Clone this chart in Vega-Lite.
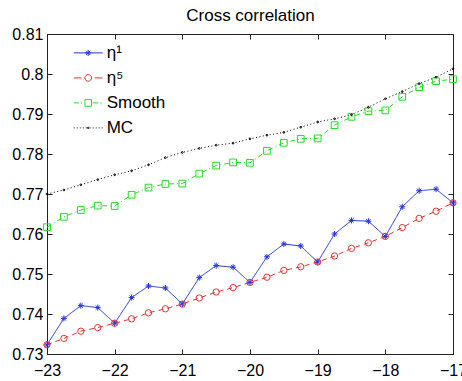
{
  "$schema": "https://vega.github.io/schema/vega-lite/v6.json",
  "autosize": "none",
  "width": 406,
  "height": 320,
  "padding": {"left": 47, "top": 34, "right": 9, "bottom": 27},
  "background": "white",
  "config": {
    "view": {"stroke": "#222", "strokeWidth": 1},
    "axis": {"grid": false, "domain": false, "tickColor": "#222", "labelColor": "black", "labelFont": "Liberation Sans", "labelFontSize": 16, "tickSize": -5, "labelFlush": false}
  },
  "data": {"values": [
    {"x": -23, "series": "η¹", "value": 0.7323}, {"x": -22.75, "series": "η¹", "value": 0.7389}, {"x": -22.5, "series": "η¹", "value": 0.7421}, {"x": -22.25, "series": "η¹", "value": 0.7416}, {"x": -22, "series": "η¹", "value": 0.7377},
    {"x": -21.75, "series": "η¹", "value": 0.7441}, {"x": -21.5, "series": "η¹", "value": 0.7470}, {"x": -21.25, "series": "η¹", "value": 0.7465}, {"x": -21, "series": "η¹", "value": 0.7425}, {"x": -20.75, "series": "η¹", "value": 0.7491},
    {"x": -20.5, "series": "η¹", "value": 0.7521}, {"x": -20.25, "series": "η¹", "value": 0.7517}, {"x": -20, "series": "η¹", "value": 0.7479}, {"x": -19.75, "series": "η¹", "value": 0.7543}, {"x": -19.5, "series": "η¹", "value": 0.7575},
    {"x": -19.25, "series": "η¹", "value": 0.7570}, {"x": -19, "series": "η¹", "value": 0.7530}, {"x": -18.75, "series": "η¹", "value": 0.7600}, {"x": -18.5, "series": "η¹", "value": 0.7634}, {"x": -18.25, "series": "η¹", "value": 0.7632},
    {"x": -18, "series": "η¹", "value": 0.7594}, {"x": -17.75, "series": "η¹", "value": 0.7668}, {"x": -17.5, "series": "η¹", "value": 0.7708}, {"x": -17.25, "series": "η¹", "value": 0.7712}, {"x": -17, "series": "η¹", "value": 0.7678},
    {"x": -23, "series": "η⁵", "value": 0.7323}, {"x": -22.75, "series": "η⁵", "value": 0.7339}, {"x": -22.5, "series": "η⁵", "value": 0.7357}, {"x": -22.25, "series": "η⁵", "value": 0.7366}, {"x": -22, "series": "η⁵", "value": 0.7377},
    {"x": -21.75, "series": "η⁵", "value": 0.7388}, {"x": -21.5, "series": "η⁵", "value": 0.7403}, {"x": -21.25, "series": "η⁵", "value": 0.7413}, {"x": -21, "series": "η⁵", "value": 0.7425}, {"x": -20.75, "series": "η⁵", "value": 0.7440},
    {"x": -20.5, "series": "η⁵", "value": 0.7455}, {"x": -20.25, "series": "η⁵", "value": 0.7466}, {"x": -20, "series": "η⁵", "value": 0.7479}, {"x": -19.75, "series": "η⁵", "value": 0.7492}, {"x": -19.5, "series": "η⁵", "value": 0.7509},
    {"x": -19.25, "series": "η⁵", "value": 0.7518}, {"x": -19, "series": "η⁵", "value": 0.7530}, {"x": -18.75, "series": "η⁵", "value": 0.7545}, {"x": -18.5, "series": "η⁵", "value": 0.7564}, {"x": -18.25, "series": "η⁵", "value": 0.7578},
    {"x": -18, "series": "η⁵", "value": 0.7594}, {"x": -17.75, "series": "η⁵", "value": 0.7616}, {"x": -17.5, "series": "η⁵", "value": 0.7639}, {"x": -17.25, "series": "η⁵", "value": 0.7657}, {"x": -17, "series": "η⁵", "value": 0.7678},
    {"x": -23, "series": "Smooth", "value": 0.7617}, {"x": -22.75, "series": "Smooth", "value": 0.7643}, {"x": -22.5, "series": "Smooth", "value": 0.7660}, {"x": -22.25, "series": "Smooth", "value": 0.7671}, {"x": -22, "series": "Smooth", "value": 0.7670},
    {"x": -21.75, "series": "Smooth", "value": 0.7698}, {"x": -21.5, "series": "Smooth", "value": 0.7716}, {"x": -21.25, "series": "Smooth", "value": 0.7725}, {"x": -21, "series": "Smooth", "value": 0.7726}, {"x": -20.75, "series": "Smooth", "value": 0.7751},
    {"x": -20.5, "series": "Smooth", "value": 0.7771}, {"x": -20.25, "series": "Smooth", "value": 0.7779}, {"x": -20, "series": "Smooth", "value": 0.7778}, {"x": -19.75, "series": "Smooth", "value": 0.7808}, {"x": -19.5, "series": "Smooth", "value": 0.7828},
    {"x": -19.25, "series": "Smooth", "value": 0.7838}, {"x": -19, "series": "Smooth", "value": 0.7839}, {"x": -18.75, "series": "Smooth", "value": 0.7872}, {"x": -18.5, "series": "Smooth", "value": 0.7893}, {"x": -18.25, "series": "Smooth", "value": 0.7907},
    {"x": -18, "series": "Smooth", "value": 0.7909}, {"x": -17.75, "series": "Smooth", "value": 0.7943}, {"x": -17.5, "series": "Smooth", "value": 0.7967}, {"x": -17.25, "series": "Smooth", "value": 0.7982}, {"x": -17, "series": "Smooth", "value": 0.7987},
    {"x": -23, "series": "MC", "value": 0.7700}, {"x": -22.75, "series": "MC", "value": 0.7710}, {"x": -22.5, "series": "MC", "value": 0.7723}, {"x": -22.25, "series": "MC", "value": 0.7736}, {"x": -22, "series": "MC", "value": 0.7748},
    {"x": -21.75, "series": "MC", "value": 0.7758}, {"x": -21.5, "series": "MC", "value": 0.7773}, {"x": -21.25, "series": "MC", "value": 0.7791}, {"x": -21, "series": "MC", "value": 0.7804}, {"x": -20.75, "series": "MC", "value": 0.7814},
    {"x": -20.5, "series": "MC", "value": 0.7822}, {"x": -20.25, "series": "MC", "value": 0.7827}, {"x": -20, "series": "MC", "value": 0.7838}, {"x": -19.75, "series": "MC", "value": 0.7847}, {"x": -19.5, "series": "MC", "value": 0.7854},
    {"x": -19.25, "series": "MC", "value": 0.7867}, {"x": -19, "series": "MC", "value": 0.7880}, {"x": -18.75, "series": "MC", "value": 0.7888}, {"x": -18.5, "series": "MC", "value": 0.7898}, {"x": -18.25, "series": "MC", "value": 0.7917},
    {"x": -18, "series": "MC", "value": 0.7938}, {"x": -17.75, "series": "MC", "value": 0.7956}, {"x": -17.5, "series": "MC", "value": 0.7976}, {"x": -17.25, "series": "MC", "value": 0.7992}, {"x": -17, "series": "MC", "value": 0.8013}
  ]},
  "resolve": {"axis": {"x": "independent", "y": "independent"}},
  "layer": [
    {
      "mark": {"type": "line", "strokeWidth": 1},
      "encoding": {
        "x": {"field": "x", "type": "quantitative", "scale": {"domain": [-23, -17], "nice": false, "zero": false},
              "axis": {"orient": "bottom", "title": null, "values": [-23, -22, -21, -20, -19, -18, -17], "format": "d", "labelPadding": 13, "labelDx": -5}},
        "y": {"field": "value", "type": "quantitative", "scale": {"domain": [0.73, 0.81], "nice": false, "zero": false},
              "axis": {"orient": "left", "title": null, "values": [0.73, 0.74, 0.75, 0.76, 0.77, 0.78, 0.79, 0.8, 0.81], "format": ".2~f", "labelPadding": 9}},
        "color": {"field": "series", "type": "nominal",
                  "scale": {"domain": ["η¹", "η⁵", "Smooth", "MC"], "range": ["#2233dd", "#e83030", "#22dd22", "#000000"]}},
        "strokeDash": {"field": "series", "type": "nominal", "sort": ["η¹", "η⁵", "Smooth", "MC"],
                  "scale": {"range": [[1, 0], [5, 4], [5, 3, 1, 3], [1, 2.5]]},
                  "legend": null}
      }
    },
    {
      "mark": {"type": "point", "filled": false, "strokeWidth": 1, "opacity": 1},
      "encoding": {
        "x": {"field": "x", "type": "quantitative",
              "axis": {"orient": "top", "labels": false, "values": [-23, -22, -21, -20, -19, -18, -17],
                       "title": "Cross correlation", "titleFont": "Liberation Sans", "titleFontSize": 17, "titleFontWeight": "normal", "titleColor": "black", "titlePadding": 9}},
        "y": {"field": "value", "type": "quantitative", "axis": {"orient": "right", "title": null, "labels": false, "values": [0.73, 0.74, 0.75, 0.76, 0.77, 0.78, 0.79, 0.8, 0.81]}},
        "color": {"field": "series", "type": "nominal",
                  "legend": {"orient": "none", "legendX": 25.7, "legendY": 3.4, "title": null, "padding": 0, "symbolSize": 900, "symbolStrokeWidth": 1, "labelFont": "Liberation Sans", "labelFontSize": 17, "labelColor": "black", "labelOffset": 3, "rowPadding": 1,
                    "symbolType": {"expr": "datum.value == 'η¹' ? 'M-0.96,0L0.96,0M-0.2,0L0.2,0M0,-0.2L0,0.2M-0.14,-0.14L0.14,0.14M-0.14,0.14L0.14,-0.14' : datum.value == 'η⁵' ? 'M-0.96,0L-0.45,0M0.44,0L0.96,0M0.22,0A0.22,0.22,0,1,1,-0.22,0A0.22,0.22,0,1,1,0.22,0Z' : datum.value == 'Smooth' ? 'M-0.96,0L-0.62,0M-0.48,0L-0.41,0M0.3,0L0.66,0M0.82,0L0.9,0M-0.22,-0.22L0.22,-0.22L0.22,0.22L-0.22,0.22Z' : 'M-0.96,0L-0.9,0M-0.76,0L-0.7,0M-0.56,0L-0.5,0M-0.36,0L-0.3,0M-0.16,0L-0.1,0M0.1,0L0.16,0M0.3,0L0.36,0M0.5,0L0.56,0M0.7,0L0.76,0M0.9,0L0.96,0M0.05,0A0.05,0.05,0,1,1,-0.05,0A0.05,0.05,0,1,1,0.05,0Z'"}}},
        "shape": {"field": "series", "type": "nominal", "sort": ["η¹", "η⁵", "Smooth", "MC"],
                  "scale": {"range": ["M-1,0L1,0M0,-1L0,1M-0.7,-0.7L0.7,0.7M-0.7,0.7L0.7,-0.7", "circle", "square", "circle"]},
                  "legend": null},
        "size": {"field": "series", "type": "nominal", "sort": ["η¹", "η⁵", "Smooth", "MC"],
                  "scale": {"type": "ordinal", "range": [36, 40, 45, 3]},
                  "legend": null}
      }
    }
  ]
}
